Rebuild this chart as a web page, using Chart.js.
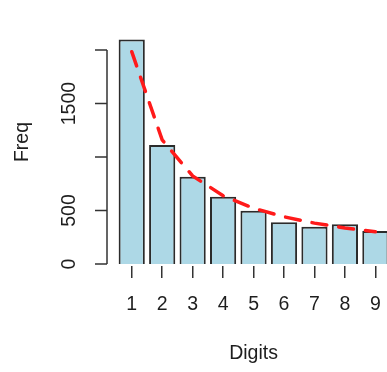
<!DOCTYPE html>
<html>
<head>
<meta charset="utf-8">
<script src="https://cdn.jsdelivr.net/npm/chart.js@4.4.1/dist/chart.umd.min.js"></script>
<style>
  html, body { margin: 0; padding: 0; background: #fff; overflow: hidden; }
  #c { display: block; }
</style>
</head>
<body>
<canvas id="c" width="400" height="372"></canvas>
<script>
// first-digit counts and expected (Benford) counts
var digits = ["1", "2", "3", "4", "5", "6", "7", "8", "9"];
var freq = [2100, 1112, 816, 629, 498, 390, 349, 371, 308];
var expected = [1985, 1160, 823, 638, 521, 441, 382, 337, 301];
var yTicks = [0, 500, 1000, 1500, 2000];
var yLabels = ["0", "500", "", "1500", ""];   // R drops the ones that would overlap

var txt = '#1e1e1e';
var font = { family: 'Liberation Sans, Arial, sans-serif', size: 19.5 };

// R-style y axis: line only spans the tick range, pulled left of the plot region
var rAxis = {
  id: 'rAxis',
  afterDraw: function (chart) {
    var y = chart.scales.y, ctx = chart.ctx;
    var x0 = chart.chartArea.left - 9.5;
    ctx.save();
    ctx.strokeStyle = '#333';
    ctx.lineWidth = 1.5;
    ctx.beginPath();
    ctx.moveTo(x0, y.getPixelForValue(yTicks[0]));
    ctx.lineTo(x0, y.getPixelForValue(yTicks[yTicks.length - 1]));
    yTicks.forEach(function (v) {
      var py = y.getPixelForValue(v);
      ctx.moveTo(x0, py);
      ctx.lineTo(x0 - 12, py);
    });
    ctx.stroke();
    ctx.restore();
  }
};

new Chart(document.getElementById('c'), {
  type: 'bar',
  data: {
    labels: digits,
    datasets: [{
      type: 'line',
      data: expected,
      borderColor: '#ff1a1a',
      borderWidth: 3.5,
      borderDash: [15, 12],
      borderCapStyle: 'round',
      pointRadius: 0,
      tension: 0,
      order: 0
    }, {
      data: freq,
      backgroundColor: '#ADD8E6',
      borderColor: '#2b2b2b',
      borderWidth: 2,
      barPercentage: 0.86,
      categoryPercentage: 1,
      order: 1
    }]
  },
  options: {
    responsive: false,
    animation: false,
    layout: { padding: { left: 0, right: 9.4, top: 18, bottom: 0 } },
    plugins: { legend: { display: false }, tooltip: { enabled: false } },
    scales: {
      x: {
        grid: { display: true, drawOnChartArea: false, drawTicks: true, tickLength: 12, offset: false, color: '#333', lineWidth: 1.5 },
        border: { display: false },
        ticks: { color: txt, font: font, padding: 14.5, maxRotation: 0, autoSkip: false },
        title: { display: true, text: 'Digits', color: txt, font: font, padding: { top: 0, bottom: 6.3 } },
        afterFit: function (s) { s.height = 106; s.paddingLeft = 0; s.paddingRight = 0; }
      },
      y: {
        min: -19,
        max: 2300,
        grid: { display: false, drawTicks: false },
        border: { display: false },
        ticks: {
          color: txt, font: font, padding: 24.8,
          minRotation: 90, maxRotation: 90, crossAlign: 'center', autoSkip: false,
          callback: function (v) {
            var i = yTicks.indexOf(v);
            return i < 0 ? '' : yLabels[i];
          }
        },
        afterBuildTicks: function (s) {
          s.ticks = yTicks.map(function (v) { return { value: v }; });
        },
        title: { display: true, text: 'Freq', color: txt, font: font, padding: { top: 11.3, bottom: 0 } },
        afterFit: function (s) { s.width = 116.5; s.paddingTop = 0; s.paddingBottom = 0; }
      }
    }
  },
  plugins: [rAxis]
});
</script>
</body>
</html>
